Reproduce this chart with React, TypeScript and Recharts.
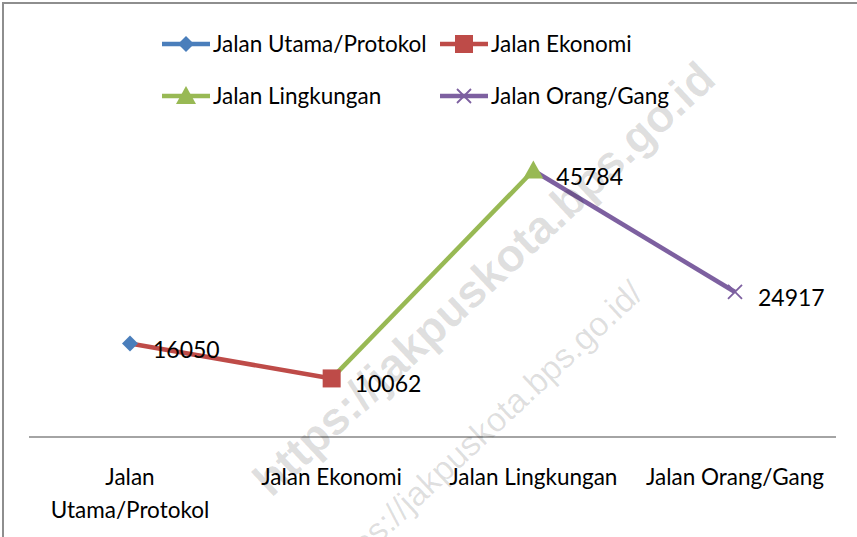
import React from "react";
import { LineChart, Line, XAxis, YAxis } from "recharts";

// categories along the x axis
const categories = [
  "Jalan Utama/Protokol",
  "Jalan Ekonomi",
  "Jalan Lingkungan",
  "Jalan Orang/Gang",
];

// each series is one segment ending at its own category
const utama = [16050, null, null, null];
const ekonomi = [16050, 10062, null, null];
const lingkungan = [null, 10062, 45784, null];
const orang = [null, null, 45784, 24917];

const FONT = "Lato, 'DejaVu Sans', sans-serif";

const series = [
  { key: "utama", name: "Jalan Utama/Protokol", color: "#4a7ebb", mark: 0, shape: "diamond" },
  { key: "ekonomi", name: "Jalan Ekonomi", color: "#be4b48", mark: 1, shape: "square" },
  { key: "lingkungan", name: "Jalan Lingkungan", color: "#98b954", mark: 2, shape: "triangle" },
  { key: "orang", name: "Jalan Orang/Gang", color: "#7d60a0", mark: 3, shape: "x" },
];

const chartData = categories.map((c, i) => ({
  name: c,
  utama: utama[i],
  ekonomi: ekonomi[i],
  lingkungan: lingkungan[i],
  orang: orang[i],
}));

function Marker({ shape, color, x, y }: any) {
  if (shape === "diamond") {
    return <path d={`M${x},${y - 8}L${x + 8},${y}L${x},${y + 8}L${x - 8},${y}Z`} fill={color} />;
  }
  if (shape === "square") {
    return <rect x={x - 9} y={y - 9} width={18} height={18} fill={color} />;
  }
  if (shape === "triangle") {
    return <path d={`M${x},${y - 10}L${x + 10},${y + 8}L${x - 10},${y + 8}Z`} fill={color} />;
  }
  return (
    <path
      d={`M${x - 7},${y - 7}L${x + 7},${y + 7}M${x + 7},${y - 7}L${x - 7},${y + 7}`}
      stroke={color}
      strokeWidth={1.8}
      fill="none"
    />
  );
}

const makeDot = (s: any) => (p: any) => {
  const { cx, cy, index, value } = p;
  if (index !== s.mark || cx == null || cy == null) return <g key={`${s.key}-${index}`} />;
  const v = Array.isArray(value) ? value[1] : value;
  return (
    <g key={`${s.key}-${index}`}>
      <Marker shape={s.shape} color={s.color} x={cx} y={cy} />
      <text x={cx + 23} y={cy + 14} fontSize={23} fontFamily={FONT} fill="#000">
        {v}
      </text>
    </g>
  );
};

function CatTick({ x, y, payload }: any) {
  const label = String(payload.value);
  const lines = label.length > 18 ? [label.slice(0, label.indexOf(" ")), label.slice(label.indexOf(" ") + 1)] : [label];
  return (
    <text x={x} y={y} textAnchor="middle" fontSize={22.5} fontFamily={FONT} fill="#000">
      {lines.map((l, i) => (
        <tspan key={i} x={x} dy={i === 0 ? 40 : 33}>
          {l}
        </tspan>
      ))}
    </text>
  );
}

const legendPos = [
  { x: 162, y: 44 },
  { x: 440, y: 44 },
  { x: 162, y: 96 },
  { x: 440, y: 96 },
];

function ChartLegend() {
  return (
    <svg width={857} height={130} style={{ position: "absolute", left: 0, top: 0 }}>
      {series.map((s, i) => {
        const p = legendPos[i];
        return (
          <g key={s.key}>
            <line x1={p.x} x2={p.x + 48} y1={p.y} y2={p.y} stroke={s.color} strokeWidth={4.5} />
            <Marker shape={s.shape} color={s.color} x={p.x + 24} y={p.y} />
            <text x={p.x + 51} y={p.y + 8} fontSize={22.5} fontFamily={FONT} fill="#000">
              {s.name}
            </text>
          </g>
        );
      })}
    </svg>
  );
}

function Watermark() {
  return (
    <svg width={857} height={537} style={{ position: "absolute", left: 0, top: 0, pointerEvents: "none" }}>
      <text
        x={718}
        y={82}
        textAnchor="end"
        transform="rotate(-43 718 82)"
        fontSize={46}
        fontWeight="bold"
        fontFamily="'Liberation Sans', Arial, sans-serif"
        fill="#000"
        fillOpacity={0.13}
      >
        https://jakpuskota.bps.go.id
      </text>
      <text
        x={645}
        y={296}
        textAnchor="end"
        transform="rotate(-43 645 296)"
        fontSize={34}
        fontFamily="'Liberation Sans', Arial, sans-serif"
        fill="#000"
        fillOpacity={0.13}
      >
        https://jakpuskota.bps.go.id/
      </text>
    </svg>
  );
}

export default function App() {
  return (
    <div style={{ position: "fixed", left: 0, top: 0, width: 857, height: 537, background: "#fff", overflow: "hidden" }}>
      <div
        style={{
          position: "absolute",
          left: 2,
          top: 2,
          width: 900,
          height: 600,
          border: "2px solid #8e8e8e",
        }}
      />
      <ChartLegend />
      <div style={{ position: "absolute", left: 0, top: 0 }}>
        <LineChart width={857} height={537} data={chartData} margin={{ top: 146, right: 21, left: 29, bottom: 0 }}>
          <XAxis
            dataKey="name"
            axisLine={{ stroke: "#868686", strokeWidth: 1.5 }}
            tickLine={false}
            height={100}
            interval={0}
            padding={{ left: 101, right: 101 }}
            tick={<CatTick />}
          />
          <YAxis hide domain={[0, 50000]} />
          {[series[1], series[0], series[2], series[3]].map((s) => (
            <Line
              key={s.key}
              type="linear"
              dataKey={s.key}
              stroke={s.color}
              strokeWidth={4.5}
              dot={makeDot(s)}
              activeDot={false}
              isAnimationActive={false}
            />
          ))}
        </LineChart>
      </div>
      <Watermark />
    </div>
  );
}
